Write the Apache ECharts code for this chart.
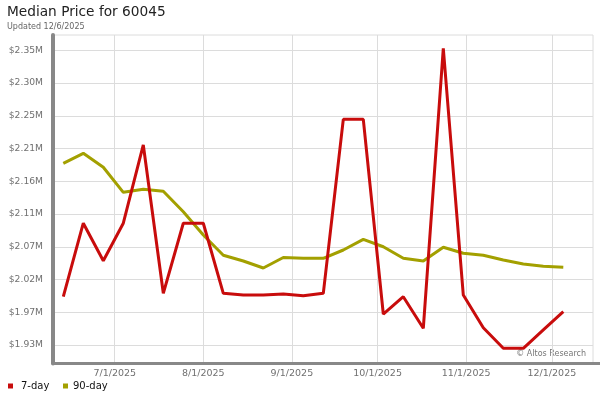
<!DOCTYPE html>
<html>
<head>
<meta charset="utf-8">
<script src="https://cdn.jsdelivr.net/npm/echarts@6/dist/echarts.min.js"></script>
<style>
html, body { margin: 0; padding: 0; background: #fff; }
#chart { width: 600px; height: 400px; }
</style>
</head>
<body>
<div id="chart"></div>
<script>
// weekly dates
var dates = ['2025-06-13', '2025-06-20', '2025-06-27', '2025-07-04', '2025-07-11', '2025-07-18', '2025-07-25',
    '2025-08-01', '2025-08-08', '2025-08-15', '2025-08-22', '2025-08-29', '2025-09-05', '2025-09-12',
    '2025-09-19', '2025-09-26', '2025-10-03', '2025-10-10', '2025-10-17', '2025-10-24', '2025-10-31',
    '2025-11-07', '2025-11-14', '2025-11-21', '2025-11-28', '2025-12-05'];
var day7 = [1994600, 2100000, 2046200, 2100000, 2212200, 1999500, 2100000,
    2100000, 1999500, 1997000, 1997000, 1998500, 1996000, 1999500,
    2249000, 2249000, 1969800, 1994600, 1949300, 2350900, 1997000,
    1950200, 1920600, 1920600, 1946900, 1973100];
var day90 = [2185900, 2200300, 2180200, 2144300, 2148600, 2145800, 2116500,
    2083100, 2054000, 2045800, 2035800, 2050800, 2049700, 2049700,
    2061600, 2076900, 2066300, 2049700, 2045800, 2065500, 2056900,
    2054000, 2047200, 2041500, 2038200, 2036800];
var yTickLabels = ['$1.93M', '$1.97M', '$2.02M', '$2.07M', '$2.11M', '$2.16M', '$2.21M', '$2.25M', '$2.30M', '$2.35M'];
var yMin = 1925360, yStep = 46960;

var colors = ['#c80c0c', '#a3a000'];
var font = 'DejaVu Sans';

// time extents for the plot area (px -> days)
var DAY = 864e5;
var t0 = new Date(2025, 5, 13).getTime();
var pxDay = 500 / 175;
function tAt(x) { return t0 + (x - 63.3) / pxDay * DAY; }

function pair(arr) {
    return dates.map(function (d, i) { return [d, arr[i]]; });
}

var myChart = echarts.init(document.getElementById('chart'));
myChart.setOption({
    animation: false,
    title: {
        text: 'Median Price for 60045',
        subtext: 'Updated 12/6/2025',
        left: 7,
        top: 5,
        padding: 0,
        itemGap: 4,
        textStyle: { fontFamily: font, fontSize: 13.7, fontWeight: 'normal', color: '#222' },
        subtextStyle: { fontFamily: font, fontSize: 8, color: '#666' }
    },
    legend: [{
        data: ['7-day'],
        left: 8,
        top: 381,
        padding: 0,
        itemWidth: 5,
        itemHeight: 5,
        icon: 'rect',
        textStyle: { fontFamily: font, fontSize: 10, color: '#111', padding: [0, 0, 0, 3] }
    }, {
        data: ['90-day'],
        left: 63,
        top: 381,
        padding: 0,
        itemWidth: 5,
        itemHeight: 5,
        icon: 'rect',
        textStyle: { fontFamily: font, fontSize: 10, color: '#111' }
    }],
    grid: [
        { left: 53, right: 7, top: 50.3, bottom: 55 },
        { left: 53, right: 0, top: 35, bottom: 36.5 },
        { left: 53, right: 7, top: 35, bottom: 36.5, show: true, borderColor: '#dcdcdc', borderWidth: 1, z: 0 }
    ],
    xAxis: [{
        type: 'time', gridIndex: 0, min: tAt(53), max: tAt(593), show: false
    }, {
        type: 'time', gridIndex: 1, min: tAt(53), max: tAt(600),
        maxInterval: 31 * DAY,
        minInterval: 20 * DAY,
        axisLine: { lineStyle: { color: '#888', width: 3 } },
        axisTick: { show: false },
        axisLabel: {
            margin: 5,
            fontFamily: font, fontSize: 9.5, color: '#707070',
            showMinLabel: false, showMaxLabel: false,
            formatter: function (v) {
                var d = new Date(v);
                return (d.getMonth() + 1) + '/' + d.getDate() + '/' + d.getFullYear();
            }
        },
        splitLine: { show: true, showMinLine: false, showMaxLine: false, lineStyle: { color: '#dcdcdc' } }
    }, {
        type: 'value', gridIndex: 2, show: false
    }],
    yAxis: [{
        type: 'value', gridIndex: 0,
        min: yMin, max: yMin + 9 * yStep, interval: yStep,
        axisLine: { show: false },
        axisTick: { show: false },
        axisLabel: {
            margin: 10,
            fontFamily: font, fontSize: 9.2, color: '#707070',
            formatter: function (v) { return yTickLabels[Math.round((v - yMin) / yStep)]; }
        },
        splitLine: { lineStyle: { color: '#dcdcdc' } }
    }, {
        type: 'value', gridIndex: 1, min: 0, max: 1,
        axisLine: { show: true, lineStyle: { color: '#888', width: 4 } },
        axisTick: { show: false },
        axisLabel: { show: false },
        splitLine: { show: false }
    }, {
        type: 'value', gridIndex: 2, show: false
    }],
    graphic: [{
        type: 'text',
        right: 14,
        top: 350,
        style: { text: '\u00a9 Altos Research', fontFamily: font, fontSize: 8, fill: '#777' }
    }],
    series: [{
        name: '90-day',
        type: 'line',
        xAxisIndex: 0, yAxisIndex: 0,
        data: pair(day90),
        showSymbol: false,
        clip: false,
        color: colors[1],
        lineStyle: { width: 3 },
        z: 3
    }, {
        name: '7-day',
        type: 'line',
        xAxisIndex: 0, yAxisIndex: 0,
        data: pair(day7),
        showSymbol: false,
        clip: false,
        color: colors[0],
        lineStyle: { width: 3 },
        z: 4
    }]
});
</script>
</body>
</html>
